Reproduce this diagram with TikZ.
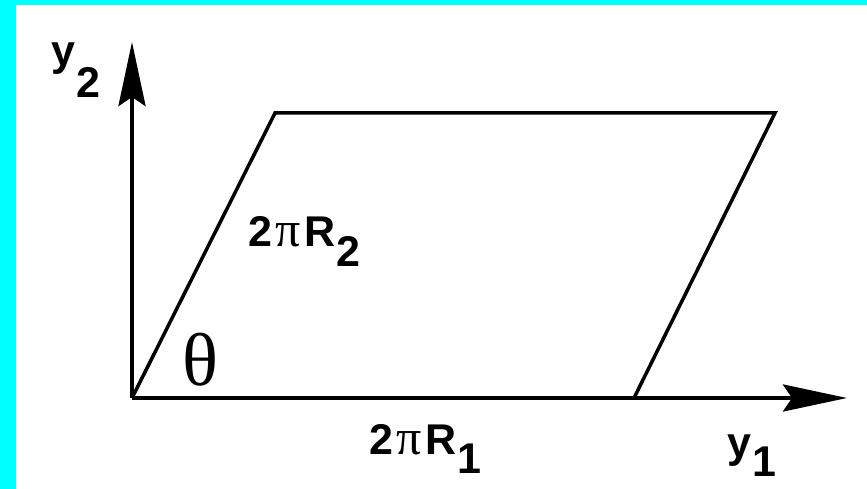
\documentclass[tikz,border=0pt]{standalone}
\usepackage{fontspec}
\setmainfont{Liberation Sans}
\newfontfamily\greekfont{Liberation Serif}
\usetikzlibrary{arrows.meta}
\definecolor{bgcyan}{RGB}{0,255,255}
\newcommand\pisym{{\greekfont\mdseries\fontsize{50}{52}\selectfont π}}
\begin{document}
\begin{tikzpicture}[x=1pt,y=-1pt,
  axis/.style={line width=4pt,-{Stealth[length=64pt,width=27pt,inset=9pt]}},
  edge/.style={line width=3.5pt,line join=miter},
  lab/.style={inner sep=0pt,font=\fontsize{43}{48}\selectfont\bfseries},
  gr/.style={inner sep=0pt,font=\greekfont\fontsize{75}{77}\selectfont},
  ]
\fill[bgcyan] (0,0) rectangle (867,489);
\fill[white] (16,5) rectangle (867,489);
\useasboundingbox (0,0) rectangle (867,489);
\coordinate (O) at (132,398);
\coordinate (A) at (275,113);
\coordinate (B) at (775,113);
\coordinate (C) at (634,398);
\coordinate (Ytip) at (132,42);
\coordinate (Xtip) at (847,398);
\draw[axis] (O) -- (Ytip);
\draw[axis] (O) -- (Xtip);
\draw[edge] (O) -- (A) -- (B) -- (C);
\node[lab,anchor=base west] (ly2) at (51,66) {y\kern1pt\raisebox{-32pt}{2}};
\node[lab,anchor=base west] (lR2) at (248,246) {2\kern3pt\pisym\kern4pt R\kern1pt\raisebox{-20pt}{2}};
\node[lab,anchor=base west] (lR1) at (369,454) {2\kern3pt\pisym\kern4pt R\kern1pt\raisebox{-19pt}{1}};
\node[lab,anchor=base west] (ly1) at (727,457) {y\kern1pt\raisebox{-19pt}{1}};
\node[gr] (th) at (200,360) {θ};
\end{tikzpicture}
\end{document}
